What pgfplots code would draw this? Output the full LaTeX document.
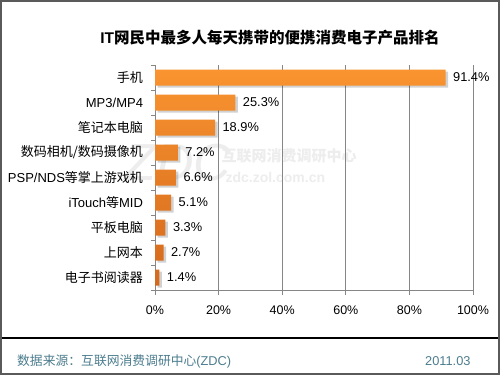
\documentclass[border=0pt]{standalone}
\usepackage{pgfplots}
\pgfplotsset{compat=1.18}
\usepackage{fontspec}
\setmainfont{Liberation Sans}
\newfontfamily\cjk{Noto Sans CJK SC}
\definecolor{barA}{HTML}{F99430}
\definecolor{barB}{HTML}{D4681C}
\definecolor{foot}{HTML}{4C7D8E}
\definecolor{gridc}{HTML}{868686}
\definecolor{frame}{HTML}{5A5A5A}
\begin{document}
\begin{tikzpicture}[x=1bp,y=1bp]
\useasboundingbox (0,0) rectangle (500,375);
\fill[white] (0,0) rectangle (500,375);
% watermark
\node[text=gray!14, font=\fontsize{52bp}{52bp}\selectfont\itshape, anchor=center] at (178,212) {ZDC};
\node[text=gray!14, font=\cjk\bfseries\fontsize{15bp}{17bp}\selectfont, anchor=west] at (218,219) {互联网消费调研中心};
\node[text=gray!14, font=\bfseries\fontsize{14bp}{16bp}\selectfont, anchor=west] at (222,198) {zdc.zol.com.cn};
\begin{axis}[
  at={(155bp,85bp)}, anchor=south west,
  scale only axis, width=318bp, height=225bp,
  xmin=0, xmax=100,
  ymin=-0.5, ymax=8.5,
  axis x line*=bottom, axis y line*=left,
  axis line style={draw=gridc, line width=0.8pt},
  xtick={0,20,...,100},
  xticklabels={0\%,20\%,40\%,60\%,80\%,100\%},
  ytick={-0.5,0.5,...,8.5},
  yticklabels={{},{\cjk 电子书阅读器},{\cjk 上网本},{\cjk 平板电脑},{iTouch\cjk 等}MID,PSP/NDS{\cjk 等掌上游戏机},{\cjk 数码相机/数码摄像机},{\cjk 笔记本电脑},MP3/MP4,{\cjk 手机}},
  yticklabel style={yshift=-12.5bp, xshift=-4bp, font=\fontsize{13bp}{15bp}\selectfont, text=black},
  xticklabel style={yshift=-8bp, font=\fontsize{12.5bp}{15bp}\selectfont, text=black},
  tick align=outside,
  major tick length=4.5bp,
  tick style={draw=gridc, line width=0.8pt},
  xmajorgrids, grid style={draw=gridc, line width=0.8pt},
  /pgf/number format/assume math mode=true,
  clip=false,
]
\addplot[xbar, bar width=16bp, bar shift=-2bp, xshift=2.5bp, draw=none, fill=black, fill opacity=0.18, forget plot]
  coordinates {(1.4,0) (2.7,1) (3.3,2) (5.1,3) (6.6,4) (7.2,5) (18.9,6) (25.3,7) (91.4,8)};
\addplot[xbar, bar width=16bp, bar shift=0bp, draw=none, top color=barA, bottom color=barB,
  point meta=x,
  nodes near coords={\pgfmathprintnumber[fixed,fixed zerofill,precision=1]{\pgfplotspointmeta}\%},
  every node near coord/.append style={anchor=west, xshift=4bp, text=black, font=\fontsize{12.8bp}{15bp}\selectfont}]
  coordinates {(1.4,0) (2.7,1) (3.3,2) (5.1,3) (6.6,4) (7.2,5) (18.9,6) (25.3,7) (91.4,8)};
\end{axis}
% title
\node[font=\bfseries\fontsize{15.5bp}{18bp}\selectfont, anchor=center] at (270,337) {IT{\cjk 网民中最多人每天携带的便携消费电子产品排名}};
% footer
\draw[black, line width=1.3bp] (2,37) -- (498,37);
\node[anchor=west, text=foot, inner sep=0, font=\fontsize{12.8bp}{15bp}\selectfont] at (17,14) {{\cjk 数据来源：互联网消费调研中心}(ZDC)};
\node[anchor=west, text=foot, inner sep=0, font=\fontsize{12.8bp}{15bp}\selectfont] at (425,14) {2011.03};
\draw[frame, line width=2bp] (1,1) rectangle (499,374);
\end{tikzpicture}
\end{document}
